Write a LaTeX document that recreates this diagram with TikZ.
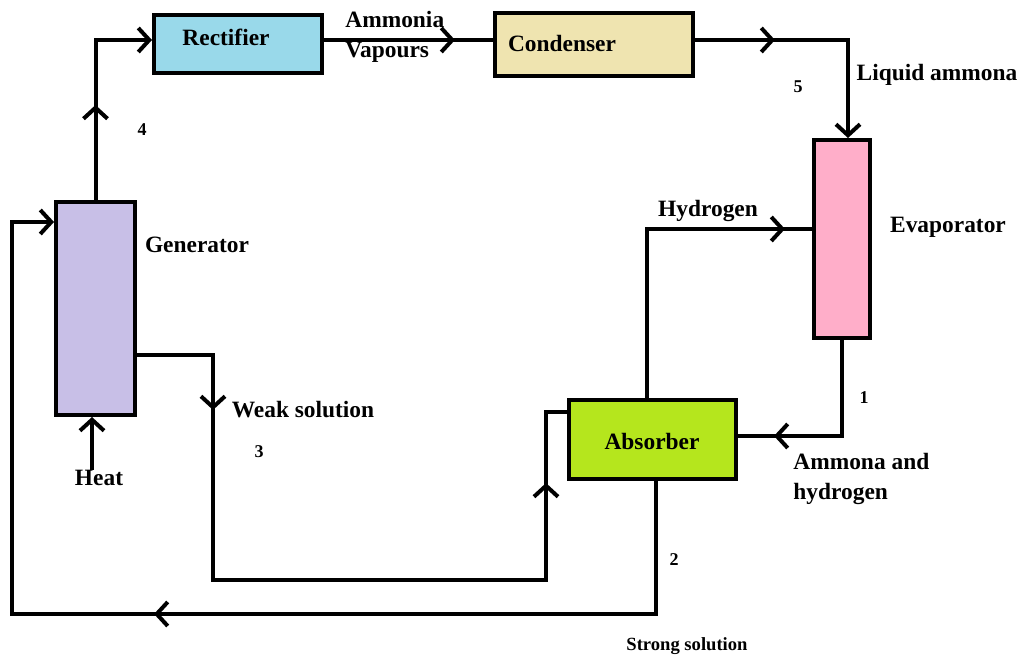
\documentclass[tikz,border=0pt]{standalone}
\usepackage{fontspec}
\setmainfont{Liberation Serif}
\usetikzlibrary{arrows.meta,decorations.markings}

\definecolor{rectblue}{HTML}{99D9EA}
\definecolor{condtan}{HTML}{EFE4B0}
\definecolor{evappink}{HTML}{FFAEC9}
\definecolor{genlilac}{HTML}{C8BFE7}
\definecolor{abslime}{HTML}{B5E61D}

\tikzset{
  barb/.tip={Straight Barb[length=5.5pt,width=12pt]},
  unit/.style={draw, line width=2pt, inner sep=0pt},
  pipe/.style={line width=2pt},
  midtip/.style={decoration={markings, mark=at position #1 with {\arrow{barb}}}, postaction={decorate}},
  midtwo/.style 2 args={decoration={markings, mark=at position #1 with {\arrow{barb}}, mark=at position #2 with {\arrow{barb}}}, postaction={decorate}},
  txt/.style={font=\fontsize{11.7}{15}\selectfont\bfseries, inner sep=0pt},
  num/.style={font=\fontsize{9}{11}\selectfont\bfseries, inner sep=0pt},
}

\begin{document}
\begin{tikzpicture}[x=0.5pt, y=-0.5pt]
    \useasboundingbox (0, 0) rectangle (1022, 657);

    % units
    \node[unit, fill=rectblue, minimum width=84pt, minimum height=29pt] (rect) at (238, 44) {};
    \node[unit, fill=condtan, minimum width=99pt, minimum height=31.5pt] (cond) at (594, 44.5) {};
    \node[unit, fill=evappink, minimum width=28pt, minimum height=99pt] (evap) at (842, 239) {};
    \node[unit, fill=genlilac, minimum width=39.5pt, minimum height=106.5pt] (gen) at (95.5, 308.5) {};
    \node[unit, fill=abslime, minimum width=83.5pt, minimum height=39.5pt] (abs) at (652.5, 439.5) {};

    \node[txt] (recttxt) at (226, 37) {Rectifier};
    \node[txt] (condtxt) at (562, 44) {Condenser};
    \node[txt] (evaptxt) at (948, 227) {Evaporator};
    \node[txt] (gentxt) at (197, 245) {Generator};
    \node[txt] (abstxt) at (652, 441) {Absorber};

    % labels
    \node[txt, align=left, anchor=west] (vap) at (345, 37) {Ammonia\\Vapours};
    \node[txt] (liq) at (937, 75) {Liquid ammona};
    \node[txt] (hyd) at (708, 211) {Hydrogen};
    \node[txt, align=left, anchor=west] (amhyd) at (793, 479) {Ammona and\\hydrogen};
    \node[txt] (weak) at (303, 410) {Weak solution};
    \node[txt] (heat) at (99, 478) {Heat};
    \node[font=\fontsize{9.3}{11}\selectfont\bfseries, inner sep=0pt] (strong) at (687, 646) {Strong solution};
    \node[num] (n1) at (864, 398) {1};
    \node[num] (n2) at (674, 560) {2};
    \node[num] (n3) at (259, 452) {3};
    \node[num] (n4) at (142, 130) {4};
    \node[num] (n5) at (798, 87) {5};

    % flows
    \draw[pipe, -{barb}, midtip=47.5pt] (gen.north) |- ([yshift=2pt]rect.west);
    \draw[pipe, midtip=65.5pt] ([yshift=2pt]rect.east) -- ([yshift=2pt]rect.east -| cond.west);
    \draw[pipe, -{barb}, midtip=40pt] ([yshift=2pt]rect.east -| cond.east) -| ([xshift=3pt]evap.north);
    \draw[pipe, midtip=153.5pt] ([xshift=-2.75pt]abs.north) |- ([yshift=5pt]evap.west);
    \draw[pipe, midtip=82pt] (evap.south) |- ([yshift=1.75pt]abs.east);
    \draw[pipe, midtwo={65.5pt}{365.5pt}] ([yshift=-23.25pt]gen.east) -| (213, 580) -| (546, 412) -- ([yshift=13.75pt]abs.west);
    \draw[pipe, -{barb}, midtip=317.5pt] ([xshift=1.75pt]abs.south) |- (12, 614) |- ([yshift=43.25pt]gen.west);
    \draw[pipe, -{barb}] ([xshift=-1.75pt]heat.north -| gen.south) -- ([xshift=-1.75pt]gen.south);

\end{tikzpicture}
\end{document}
